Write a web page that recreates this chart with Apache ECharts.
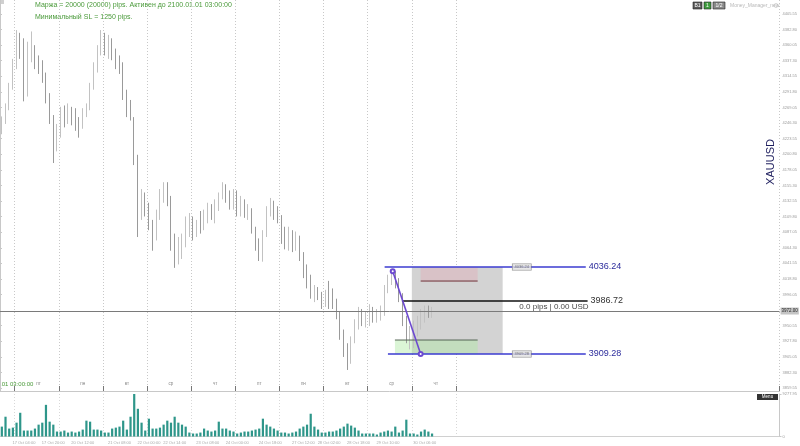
<!DOCTYPE html>
<html><head><meta charset="utf-8">
<script src="https://cdn.jsdelivr.net/npm/echarts@6/dist/echarts.min.js"></script>
<style>html,body{margin:0;padding:0;background:#fff}#c{width:800px;height:446px}</style>
</head><body><div id="c"></div>
<script>
// ---- DATA (2-hour bars, XAUUSD, 16–30 Oct) : [open, close, low, high]
const priceBars = [
[4238,4250,4230,4256],[4250,4270,4245,4275],[4270,4300,4265,4305],[4300,4330,4295,4340],
[4330,4370,4325,4382],[4368,4350,4340,4378],[4350,4285,4278,4370],[4290,4350,4285,4365],
[4350,4355,4335,4380],[4355,4335,4325,4360],[4335,4330,4318,4345],[4330,4315,4305,4338],
[4315,4285,4275,4320],[4285,4255,4245,4290],[4255,4215,4188,4258],[4215,4230,4205,4245],
[4230,4260,4225,4270],[4258,4250,4240,4272],[4250,4262,4245,4275],[4262,4255,4243,4270],
[4255,4248,4235,4268],[4248,4240,4225,4255],[4240,4262,4238,4268],[4262,4270,4255,4275],
[4270,4300,4265,4305],[4300,4325,4295,4335],[4325,4350,4320,4360],[4350,4370,4345,4382],
[4370,4360,4345,4378],[4360,4365,4340,4375],[4365,4350,4338,4370],[4350,4335,4325,4355],
[4335,4330,4318,4345],[4330,4290,4280,4335],[4290,4270,4255,4295],[4270,4255,4250,4280],
[4250,4195,4185,4255],[4195,4120,4080,4200],[4120,4140,4105,4150],[4140,4120,4110,4145],
[4120,4100,4090,4130],[4100,4080,4060,4105],[4080,4110,4075,4120],[4110,4140,4105,4150],
[4140,4150,4130,4160],[4150,4135,4125,4160],[4135,4080,4060,4140],[4080,4045,4035,4085],
[4045,4060,4040,4080],[4060,4070,4048,4085],[4070,4090,4065,4110],[4090,4105,4080,4115],
[4105,4090,4075,4110],[4090,4100,4080,4105],[4100,4095,4085,4118],[4095,4112,4090,4120],
[4112,4120,4100,4130],[4120,4115,4105,4128],[4115,4125,4100,4135],[4125,4140,4118,4145],
[4140,4150,4135,4160],[4150,4140,4130,4157],[4140,4135,4120,4148],[4135,4140,4120,4150],
[4140,4125,4110,4148],[4125,4130,4110,4140],[4130,4115,4108,4135],[4115,4120,4105,4128],
[4120,4090,4085,4122],[4090,4070,4060,4095],[4070,4060,4045,4078],[4060,4085,4044,4090],
[4085,4120,4080,4125],[4120,4130,4110,4137],[4130,4115,4105,4133],[4115,4110,4100,4125],
[4110,4090,4070,4112],[4090,4075,4062,4095],[4075,4085,4060,4095],[4085,4075,4058,4090],
[4075,4080,4060,4088],[4080,4055,4045,4082],[4055,4030,4020,4058],[4030,4020,4005,4040],
[4020,4000,3990,4025],[4000,4005,3985,4010],[4005,3995,3988,4007],[3995,3985,3975,4000],
[3985,3998,3978,4003],[3998,3990,3975,4016],[3990,3985,3975,4005],[3985,3970,3960,3990],
[3970,3940,3930,3972],[3940,3915,3905,3945],[3915,3900,3886,3925],[3900,3930,3895,3935],
[3930,3950,3925,3960],[3950,3970,3945,3978],[3970,3955,3950,3975],[3955,3962,3948,3972],
[3962,3970,3950,3982],[3970,3962,3955,3978],[3962,3965,3955,3975],[3965,3975,3958,3980],
[3975,4005,3965,4010],[4005,4018,3998,4025],[4018,4025,4010,4032],[4025,4015,4005,4030],
[4015,3995,3985,4020],[3995,3960,3950,3998],[3960,3930,3925,3965],[3930,3935,3916,3950],
[3935,3945,3918,3958],[3945,3955,3935,3965],[3955,3965,3945,3975],[3965,3975,3955,3980],
[3975,3968,3962,3980],[3968,3972,3962,3978]
];
const volumes = [
2160,4320,1730,1940,3020,5180,1300,1300,1300,1730,
2590,3020,6910,3240,2590,1080,1080,1300,860,1080,
860,1080,1510,3460,3240,1510,1510,1300,860,860,
1730,1940,2160,3460,1510,4320,9277.95,6050,3020,1300,
3890,1730,1730,1940,2590,3460,3020,4320,3020,2590,
2160,860,650,650,860,1730,1300,1080,1300,3240,
1730,1730,1300,1080,650,860,1080,1080,1300,1510,
1730,3890,2590,2160,1730,1300,860,860,650,860,
1080,1730,2160,2590,4970,2160,1510,860,860,1080,
1080,1300,1730,2160,2810,2380,1940,1300,650,650,
650,650,430,860,1080,1300,1080,2160,860,1300,
3670,650,650,430,1080,1510,1080,650
];
const priceTicks = [3859.55,3882.30,3905.05,3927.80,3950.55,3996.05,4018.80,4041.55,4064.30,
  4087.05,4109.80,4132.55,4155.30,4178.05,4200.80,4223.55,4246.30,4269.05,4291.80,4314.55,
  4337.30,4360.05,4382.80,4405.55];
const volumeTicks = [0, 9277.95];
const dayLabels = [[10,'пт'],[22,'пн'],[34,'вт'],[46,'ср'],[58,'чт'],[70,'пт'],[82,'пн'],[94,'вт'],[106,'ср'],[118,'чт']];
const daySeparators = [4,16,28,40,52,64,76,88,100,112,124];
const dateTicks = [[6,'17 Oct 04:00'],[14,'17 Oct 20:00'],[22,'20 Oct 12:00'],[32,'21 Oct 08:00'],
  [40,'22 Oct 00:00'],[47,'22 Oct 14:00'],[56,'23 Oct 08:00'],[64,'24 Oct 00:00'],[73,'24 Oct 18:00'],
  [82,'27 Oct 12:00'],[89,'28 Oct 02:00'],[97,'28 Oct 18:00'],[105,'29 Oct 10:00'],[115,'30 Oct 06:00']];
const slotCount = 212;          // chart slots incl. empty future space
const lastPrice = 3972.00;
// drawn trade objects (time in bar slots, price)
const stopLevel = 4036.24, entryLevel = 3986.72, takeLevel = 3909.28;
const stopLine = [104.6, 159.3];
const takeLine = [105.5, 159.3];
const entryLine = [109.3, 159.8];
const trendLine = [[106.8, 4030], [114.4, 3909.28]];
const tradeBox = [112.0, 136.7];
const riskZone = [114.4, 129.9, 4017];
const profitZone = [107.4, 129.9, 3929.7];
const miniTagAt = 141.9;

// ---- CHART
const FONT = '"Liberation Sans", Arial, sans-serif';
const cats = Array.from({length: slotCount}, (_, i) => String(i));
const sepSet = new Set(daySeparators);
const dayMap = Object.fromEntries(dayLabels);
const dateMap = Object.fromEntries(dateTicks);
const W = 800, H = 446;

const chart = echarts.init(document.getElementById('c'), null, {renderer: 'canvas', width: W, height: H});

const blue = '#3b3bd0';
function seg(x1, y1, x2, y2, color, width, endLabel, extra) {
  const s = {
    type: 'line', xAxisIndex: 1, yAxisIndex: 0, z: 6, silent: true, animation: false,
    symbol: 'none', lineStyle: {color, width},
    data: [[x1, y1], [x2, y2]]
  };
  if (endLabel) s.endLabel = Object.assign({show: true, distance: 3, fontFamily: FONT}, endLabel);
  return Object.assign(s, extra || {});
}
const hidden = {color: 'rgba(0,0,0,0)', borderColor: 'rgba(0,0,0,0)'};

const option = {
  animation: false,
  backgroundColor: '#fff',
  textStyle: {fontFamily: FONT},
  grid: [
    {left: 0, right: 20, top: 0, bottom: 55},
    {left: 0, right: 20, top: 394, bottom: 9.5}
  ],
  xAxis: [
    {type: 'category', gridIndex: 0, data: cats, boundaryGap: true,
     axisLine: {show: true, lineStyle: {color: '#c8c8c8'}},
     axisTick: {show: true, inside: true, length: 5, interval: (i) => sepSet.has(i), lineStyle: {color: '#777'}},
     axisLabel: {show: true, inside: true, margin: 5, fontSize: 4.5, color: '#888',
                 interval: (i) => dayMap[i] !== undefined, formatter: (v) => dayMap[+v] || ''},
     splitLine: {show: true, interval: (i) => sepSet.has(i), lineStyle: {color: '#c8c8c8', type: [1, 2]}}},
    {type: 'value', gridIndex: 0, min: 0, max: slotCount, show: false},
    {type: 'category', gridIndex: 1, data: cats, boundaryGap: true,
     axisLine: {show: true, lineStyle: {color: '#d0d0d0'}},
     axisTick: {show: false},
     axisLabel: {show: true, margin: 4, fontSize: 4, color: '#aaa',
                 interval: (i) => dateMap[i] !== undefined, formatter: (v) => dateMap[+v] || ''},
     splitLine: {show: true, interval: (i) => sepSet.has(i), lineStyle: {color: '#d8d8d8', type: [1, 2]}}}
  ],
  yAxis: [
    {type: 'value', gridIndex: 0, position: 'right', min: 3855.3, max: 4425.9,
     axisLine: {show: true, lineStyle: {color: '#c8c8c8'}},
     axisTick: {show: true, length: 2, customValues: priceTicks, lineStyle: {color: '#c8c8c8'}},
     axisLabel: {show: true, customValues: priceTicks, margin: 3, fontSize: 4, color: '#9a9a9a',
                 formatter: (v) => v.toFixed(2)},
     splitLine: {show: false}},
    {type: 'value', gridIndex: 1, position: 'right', min: 0, max: 9277.95,
     axisLine: {show: true, lineStyle: {color: '#c8c8c8'}},
     axisTick: {show: true, length: 2, customValues: volumeTicks, lineStyle: {color: '#c8c8c8'}},
     axisLabel: {show: true, customValues: volumeTicks, margin: 3, fontSize: 4, color: '#9a9a9a',
                 formatter: (v) => v === 0 ? '0' : v.toFixed(2)},
     splitLine: {show: false}}
  ],
  series: [
    // trade box areas (below candles)
    {type: 'line', xAxisIndex: 1, yAxisIndex: 0, z: 1, silent: true, symbol: 'none',
     lineStyle: {opacity: 0}, data: [[tradeBox[0], entryLevel]],
     markArea: {silent: true, data: [
       [{coord: [tradeBox[0], stopLevel], itemStyle: {color: '#d3d3d3'}}, {coord: [tradeBox[1], takeLevel]}],
       [{coord: [riskZone[0], stopLevel], itemStyle: {color: 'rgba(225,165,178,0.38)'}}, {coord: [riskZone[1], riskZone[2]]}],
       [{coord: [profitZone[0], profitZone[2]], itemStyle: {color: 'rgba(175,232,165,0.45)'}}, {coord: [profitZone[1], takeLevel]}]
     ]}},
    {type: 'candlestick', xAxisIndex: 0, yAxisIndex: 0, z: 2, data: priceBars, barWidth: 1.2,
     itemStyle: {color: '#d2d2d2', color0: '#a6a6a6', borderColor: '#c2c2c2', borderColor0: '#9a9a9a', borderWidth: 1},
     markLine: {silent: true, symbol: ['none', 'none'], animation: false,
       data: [{yAxis: lastPrice}],
       lineStyle: {color: '#7a7a7a', width: 1, type: 'solid'},
       label: {position: 'end', distance: 1, formatter: () => lastPrice.toFixed(2), fontSize: 4.5,
               color: '#222', backgroundColor: '#c4c4c4', padding: [1, 1]}}},
    {type: 'bar', xAxisIndex: 2, yAxisIndex: 1, data: volumes, barWidth: '60%',
     itemStyle: {color: '#2e968a'}},
    // zone edge lines
    seg(riskZone[0], 4015.8, riskZone[1], 4015.8, '#6e2a32', 1, null, {z: 3}),
    seg(profitZone[0], profitZone[2], profitZone[1], profitZone[2], '#556655', 1, null, {z: 3}),
    // level lines
    seg(stopLine[0], stopLevel, stopLine[1], stopLevel, blue, 1.6,
        {formatter: () => stopLevel.toFixed(2), color: '#2c2c9c', fontSize: 9}),
    seg(takeLine[0], takeLevel, takeLine[1], takeLevel, blue, 1.6,
        {formatter: () => takeLevel.toFixed(2), color: '#2c2c9c', fontSize: 9}),
    seg(entryLine[0], entryLevel, entryLine[1], entryLevel, '#111', 1.6,
        {formatter: () => entryLevel.toFixed(2), color: '#333', fontSize: 9}),
    // trend line with end circles
    {type: 'line', xAxisIndex: 1, yAxisIndex: 0, z: 7, silent: true,
     symbol: 'emptyCircle', symbolSize: 4, showSymbol: true,
     itemStyle: {color: '#6d4ad0', borderColor: '#6d4ad0'},
     lineStyle: {color: '#6d4ad0', width: 1.6}, data: trendLine},
    // small price tags and P/L text
    {type: 'scatter', xAxisIndex: 1, yAxisIndex: 0, z: 8, silent: true, symbolSize: 1,
     itemStyle: hidden,
     label: {show: true, position: 'inside', fontSize: 4, color: '#555', backgroundColor: '#e2e2e2',
             borderColor: '#777', borderWidth: 0.6, padding: [1, 2], formatter: (p) => p.value[1].toFixed(2)},
     data: [[miniTagAt, stopLevel], [miniTagAt, takeLevel]]},
    {type: 'scatter', xAxisIndex: 1, yAxisIndex: 0, z: 8, silent: true, symbolSize: 1,
     itemStyle: hidden,
     label: {show: true, position: 'left', distance: 0, offset: [2, 6], fontSize: 8, color: '#111',
             formatter: '0.0 pips | 0.00 USD'},
     data: [[entryLine[1], entryLevel]]}
  ],
  graphic: [
    {type: 'rect', shape: {x: 0, y: 0, width: 4, height: 4}, style: {fill: '#d0d0d0'}},
    {type: 'text', x: 35, y: 5, style: {text: 'Маржа = 20000 (20000) pips. Активен до 2100.01.01 03:00:00',
      font: '7px ' + FONT, fill: '#4a9a3a', textVerticalAlign: 'middle'}},
    {type: 'text', x: 35, y: 17, style: {text: 'Минимальный SL = 1250 pips.',
      font: '7px ' + FONT, fill: '#4a9a3a', textVerticalAlign: 'middle'}},
    {type: 'text', x: 0, y: 384, style: {text: '.01 03:00:00', font: '6px ' + FONT, fill: '#4a9a3a', textVerticalAlign: 'middle'}},
    // top-right buttons
    {type: 'rect', shape: {x: 693, y: 2, width: 9, height: 7}, style: {fill: '#5a5a5a', stroke: '#222', lineWidth: 0.6}},
    {type: 'text', x: 697.5, y: 5.6, style: {text: 'B1', font: '5px ' + FONT, fill: '#fff', textAlign: 'center', textVerticalAlign: 'middle'}},
    {type: 'rect', shape: {x: 704, y: 2, width: 7, height: 7}, style: {fill: '#3f9c3f', stroke: '#222', lineWidth: 0.6}},
    {type: 'text', x: 707.5, y: 5.6, style: {text: '1', font: '5px ' + FONT, fill: '#fff', textAlign: 'center', textVerticalAlign: 'middle'}},
    {type: 'rect', shape: {x: 713, y: 2, width: 12, height: 7}, style: {fill: '#8a8a8a', stroke: '#222', lineWidth: 0.6}},
    {type: 'text', x: 719, y: 5.6, style: {text: '1/2', font: '5px ' + FONT, fill: '#fff', textAlign: 'center', textVerticalAlign: 'middle'}},
    {type: 'text', x: 730, y: 5.6, style: {text: 'Money_Manager_new', font: '5px ' + FONT, fill: '#b8b8b8', textVerticalAlign: 'middle'}},
    {type: 'circle', shape: {cx: 776, cy: 5.5, r: 2}, style: {fill: 'none', stroke: '#b8b8b8', lineWidth: 0.6}},
    // symbol
    {type: 'text', x: 771, y: 162, rotation: Math.PI / 2,
     style: {text: 'XAUUSD', font: '11px ' + FONT, fill: '#1e1e5e', textAlign: 'center', textVerticalAlign: 'middle'}},
    // menu button
    {type: 'rect', shape: {x: 757, y: 394, width: 21, height: 6}, style: {fill: '#333'}},
    {type: 'text', x: 767.5, y: 397, style: {text: 'Menu', font: '4.5px ' + FONT, fill: '#fff', textAlign: 'center', textVerticalAlign: 'middle'}}
  ]
};
chart.setOption(option);
</script>
</body></html>
